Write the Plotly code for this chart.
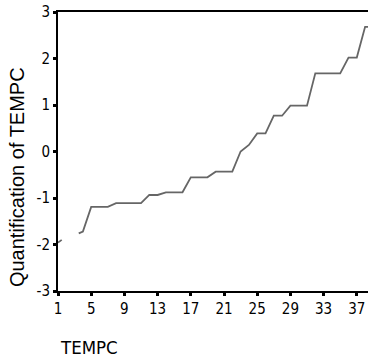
import plotly.graph_objects as go

# Category positions (TEMPC) and quantification values
tempc = [1, 1.45, None, 3.5, 4, 5, 7, 8, 11, 12, 13, 14, 16, 17, 19, 20, 22, 23, 24, 25, 26, 27, 28, 29, 31, 32, 35, 36, 37, 38, 39]
quant = [-1.96, -1.90, None, -1.76, -1.72, -1.19, -1.19, -1.11, -1.11, -0.935, -0.935, -0.877, -0.877, -0.555, -0.555,
         -0.434, -0.434, 0.0, 0.14, 0.39, 0.39, 0.77, 0.77, 0.985, 0.985, 1.68, 1.68, 2.02, 2.02, 2.68, 2.68]

x_ticks = [1, 5, 9, 13, 17, 21, 25, 29, 33, 37]
y_ticks = [-3, -2, -1, 0, 1, 2, 3]

narrow = "Liberation Sans Narrow, Arial Narrow, DejaVu Sans Condensed, Liberation Sans, Arial, sans-serif"
regular = "Liberation Sans, Arial, sans-serif"

fig = go.Figure()
fig.add_trace(go.Scatter(x=tempc, y=quant, mode="lines",
                         line=dict(color="#666666", width=1.8),
                         connectgaps=False, showlegend=False, hoverinfo="skip"))

fig.update_layout(
    width=368, height=361,
    margin=dict(l=58, r=0, t=12, b=70, autoexpand=False),
    plot_bgcolor="white", paper_bgcolor="white",
    xaxis=dict(range=[1, 38.35], tickmode="array", tickvals=x_ticks,
               ticktext=[str(v) for v in x_ticks], automargin=False,
               showgrid=False, zeroline=False,
               showline=True, linecolor="black", linewidth=2, mirror=True,
               ticks="outside", ticklen=3, tickwidth=3, tickcolor="black",
               tickfont=dict(family=narrow, size=15, color="black")),
    yaxis=dict(range=[-3, 3], tickmode="array", tickvals=y_ticks,
               ticktext=[str(v) for v in y_ticks], automargin=False,
               showgrid=False, zeroline=False,
               showline=True, linecolor="black", linewidth=2,
               ticks="outside", ticklen=3, tickwidth=3, tickcolor="black",
               tickfont=dict(family=narrow, size=15, color="black")),
    annotations=[
        dict(text="TEMPC", xref="paper", yref="paper", x=0.0, y=-0.204,
             xanchor="left", yanchor="middle", showarrow=False,
             font=dict(family=narrow, size=18.5, color="black")),
        dict(text="Quantification of TEMPC", xref="paper", yref="paper",
             x=-0.134, y=0.41, xanchor="center", yanchor="middle",
             textangle=-90, showarrow=False,
             font=dict(family=regular, size=20, color="black")),
    ],
)

fig.write_html("out.html",
               config={"displayModeBar": False, "staticPlot": True},
               post_script="document.body.style.margin='0';document.body.style.overflow='hidden';")
